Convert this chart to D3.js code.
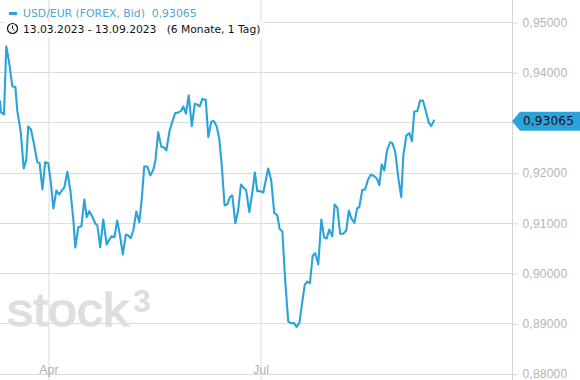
<!DOCTYPE html>
<html>
  <head>
    <meta charset="utf-8" />
    <title>USD/EUR</title>
    <style>
      html, body { margin: 0; padding: 0; background: #fff; }
      svg { display: block; font-family: "DejaVu Sans", sans-serif; }
      .grid line { stroke: #dcdce2; }
      .grid .domain { display: none; }
      .grid text { fill: #b0b0b0; font-size: 12.5px; }
      .yaxis .domain, .yaxis line { stroke: #d4d4d4; }
      .yaxis text { fill: #b4b4b4; font-size: 12px; letter-spacing: 0.2px; }
    </style>
  </head>
  <body>
    <div id="chart"></div>
    <script src="https://d3js.org/d3.v7.min.js"></script>
    <script>
      // days since 13.03.2023
      const days = [-1.8, -1.4, -0.1, 0.9, 2.1, 3.5, 4.8, 5.6, 7.1, 8.4, 9.5, 10.3, 11.5, 12.9, 14.2, 15.2, 16.4, 17.6, 18.9, 20, 21.1, 22.4, 23.6, 24.8, 25.8, 27.1, 28.4, 29.7, 30.5, 31.8, 33.1, 34.4, 35.4, 36.5, 37.8, 39.1, 40, 41.2, 42.5, 44, 45.4, 46.1, 47.3, 48.5, 49.7, 50.9, 52.2, 53.3, 54.3, 55.4, 56.7, 58, 59.1, 60.1, 61.4, 62.7, 64, 64.9, 66.1, 67.4, 68.7, 69.6, 71, 72.1, 73.4, 74.7, 75.8, 76.9, 78, 79.2, 80.5, 81.8, 82.7, 83.9, 85, 86.5, 87.6, 88.9, 90, 91.2, 92.3, 93.3, 94.6, 95.8, 96.9, 97.9, 99.2, 100.4, 101.6, 102.8, 103.8, 105.2, 106.5, 107.6, 108.6, 109.9, 111.2, 113.3, 114.6, 115.9, 117.2, 118.2, 119.4, 120.6, 121.9, 123.1, 124.3, 125.5, 126.7, 127.8, 129, 130.1, 131.2, 132.4, 133.5, 134.8, 136.1, 137.3, 138.4, 139.5, 140.8, 141.8, 143, 144.2, 145.5, 146.8, 147.9, 149.1, 150.3, 151.5, 152.4, 153.7, 154.9, 156.1, 157.3, 158.6, 159.9, 161, 162, 163.1, 164.3, 165.7, 166.6, 167.9, 169.1, 170.4, 171.3, 172.6, 173.9, 175, 176, 177.3, 178.5, 179.7, 180.9, 182.2, 183.3, 184.6];
      const rates = [0.93448, 0.93215, 0.93169, 0.94525, 0.94212, 0.93728, 0.93714, 0.93249, 0.92817, 0.92093, 0.92272, 0.9293, 0.9287, 0.92552, 0.92219, 0.92199, 0.91675, 0.92219, 0.92199, 0.9182, 0.91296, 0.91655, 0.91575, 0.91655, 0.91714, 0.92027, 0.91655, 0.91057, 0.90518, 0.90923, 0.90937, 0.91475, 0.91122, 0.91242, 0.91136, 0.90997, 0.90957, 0.90524, 0.91077, 0.90578, 0.90698, 0.90744, 0.90724, 0.91057, 0.90758, 0.90379, 0.90778, 0.90758, 0.90704, 0.90857, 0.91236, 0.91023, 0.91521, 0.92133, 0.92133, 0.91954, 0.92067, 0.92253, 0.92817, 0.92532, 0.92506, 0.92452, 0.9285, 0.93016, 0.93195, 0.93209, 0.93235, 0.93329, 0.93183, 0.93548, 0.92936, 0.93383, 0.93369, 0.93329, 0.93474, 0.93462, 0.92717, 0.9303, 0.93036, 0.9293, 0.92685, 0.92193, 0.91356, 0.91382, 0.91529, 0.91555, 0.91003, 0.91256, 0.91774, 0.917, 0.91669, 0.91222, 0.91621, 0.92013, 0.91641, 0.91641, 0.91615, 0.92093, 0.91854, 0.9121, 0.91162, 0.90891, 0.90837, 0.89861, 0.89049, 0.8901, 0.89018, 0.88938, 0.89018, 0.89396, 0.89781, 0.89841, 0.89807, 0.90359, 0.90405, 0.9018, 0.91077, 0.90724, 0.90698, 0.90877, 0.90744, 0.91376, 0.9131, 0.90792, 0.90792, 0.90857, 0.91256, 0.9109, 0.9101, 0.91302, 0.91322, 0.91669, 0.91675, 0.91868, 0.91968, 0.91948, 0.91894, 0.9176, 0.92173, 0.92053, 0.92452, 0.92617, 0.92597, 0.92406, 0.9192, 0.91521, 0.92352, 0.92751, 0.92797, 0.92637, 0.93229, 0.93235, 0.93448, 0.93448, 0.93249, 0.93004, 0.92936, 0.93065];
      const yTicks = [0.88, 0.89, 0.90, 0.91, 0.92, 0.93, 0.94, 0.95];
      const monthDays = [19, 110];
      const monthLabels = ["Apr", "Jul"];
      const last = 0.93065;

      const width = 580;
      const height = 380;
      const plotRight = 512.5;
      const lineColor = "#2ba3da";

      const fmt = (v) => v.toFixed(5).replace(".", ",");

      const x = d3.scaleLinear().domain([0, 100]).range([4.2, 237.2]);
      const y = d3.scaleLinear().domain([0.88, 0.95]).range([374, 22.5]);

      const svg = d3.select("#chart").append("svg")
        .attr("width", width)
        .attr("height", height);

      // horizontal grid
      svg.append("g")
        .selectAll("line")
        .data(yTicks)
        .join("line")
        .attr("x1", 0)
        .attr("x2", plotRight)
        .attr("y1", (d) => Math.floor(y(d)) + 0.5)
        .attr("y2", (d) => Math.floor(y(d)) + 0.5)
        .attr("stroke", "#dcdce2");

      // month lines, tick labels sit just above the bottom edge
      const xAxis = svg.append("g")
        .attr("class", "grid")
        .call(d3.axisBottom(x)
          .tickValues(monthDays)
          .tickSize(height)
          .tickFormat((d, i) => monthLabels[i]));
      xAxis.selectAll("text").attr("y", 365).attr("dy", "0.71em");

      // watermark
      svg.append("text")
        .attr("x", 7)
        .attr("y", 326)
        .attr("font-family", "Liberation Sans")
        .attr("font-size", 47)
        .attr("textLength", 122)
        .attr("lengthAdjust", "spacingAndGlyphs")
        .attr("fill", "#dedede")
        .attr("stroke", "#dedede")
        .attr("stroke-width", 1.4)
        .text("stock");
      svg.append("text")
        .attr("x", 133)
        .attr("y", 312)
        .attr("font-family", "Liberation Sans")
        .attr("font-weight", "bold")
        .attr("font-size", 32)
        .attr("fill", "#dedede")
        .text("3");

      // the 0,93000 label is hidden behind the price tag
      const yAxis = svg.append("g")
        .attr("class", "yaxis")
        .attr("transform", `translate(${plotRight},0)`)
        .call(d3.axisRight(y)
          .tickValues(yTicks)
          .tickSize(5)
          .tickPadding(5)
          .tickFormat((d) => (d === 0.93 ? "" : fmt(d))));
      yAxis.select(".domain").attr("d", `M0,0V${height}`);

      const line = d3.line()
        .x((d) => x(d))
        .y((d, i) => y(rates[i]));

      svg.append("path")
        .datum(days)
        .attr("fill", "none")
        .attr("stroke", lineColor)
        .attr("stroke-width", 2.1)
        .attr("stroke-linejoin", "round")
        .attr("d", line);

      // last price tag
      const tagY = y(last) + 1.5;
      svg.append("path")
        .attr("d", `M${plotRight - 0.5},${tagY} l8,-9.5 H${width} v19 H${plotRight + 7.5} Z`)
        .attr("fill", lineColor);
      svg.append("text")
        .attr("x", 523)
        .attr("y", tagY)
        .attr("dy", "0.36em")
        .attr("font-size", 12)
        .attr("letter-spacing", 0.2)
        .attr("fill", "#111")
        .text(fmt(last));

      // header
      svg.append("rect")
        .attr("x", 9)
        .attr("y", 12)
        .attr("width", 8)
        .attr("height", 3)
        .attr("fill", lineColor);
      svg.append("text")
        .attr("x", 23)
        .attr("y", 17)
        .attr("font-size", 10.85)
        .attr("fill", "#4aa8d4")
        .attr("xml:space", "preserve")
        .text("USD/EUR (FOREX, Bid)  " + fmt(last));

      svg.append("rect")
        .attr("x", 5)
        .attr("y", 22)
        .attr("width", 258)
        .attr("height", 15)
        .attr("fill", "#fff");
      const clock = svg.append("g").attr("transform", "translate(12.5,28.5)");
      clock.append("circle")
        .attr("r", 5)
        .attr("fill", "none")
        .attr("stroke", "#111")
        .attr("stroke-width", 1.2);
      clock.append("path")
        .attr("d", "M0,-3V0L2,2")
        .attr("fill", "none")
        .attr("stroke", "#111");
      svg.append("text")
        .attr("x", 23)
        .attr("y", 33)
        .attr("font-size", 10.72)
        .attr("fill", "#111")
        .attr("xml:space", "preserve")
        .text("13.03.2023 - 13.09.2023   (6 Monate, 1 Tag)");
    </script>
  </body>
</html>
